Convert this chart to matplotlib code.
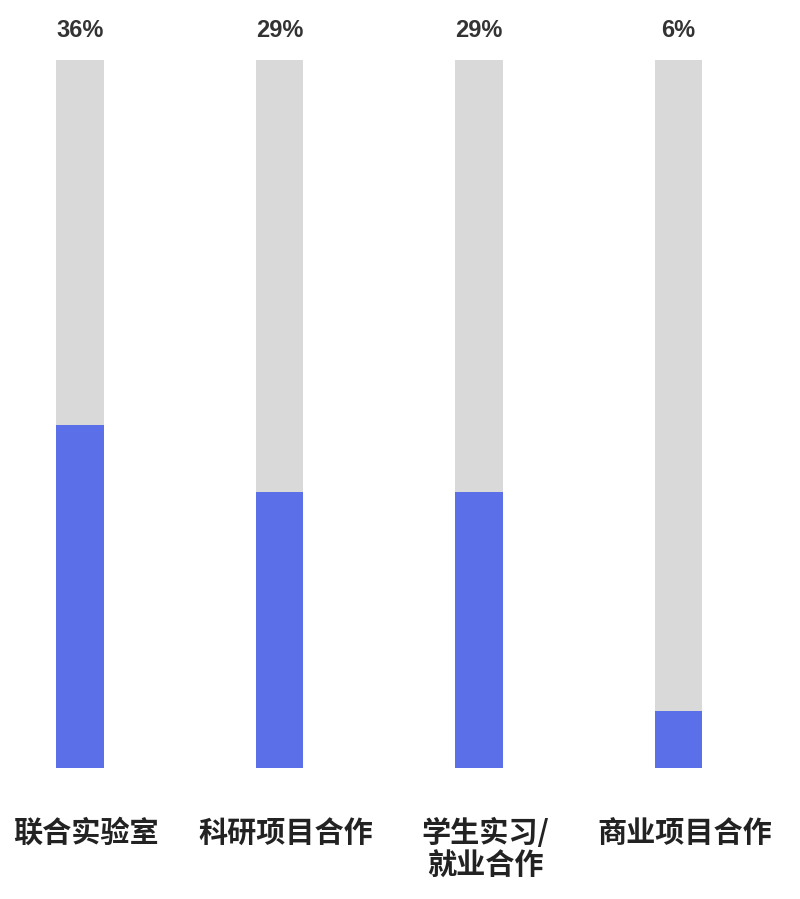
import matplotlib.pyplot as plt

plt.rcParams['font.family'] = ['Noto Sans CJK SC', 'DejaVu Sans']

categories = ['联合实验室', '科研项目合作', '学生实习/\n就业合作', '商业项目合作']
values = [0.36, 0.29, 0.29, 0.06]
labels = ['36%', '29%', '29%', '6%']
track = 0.743

blue = '#5b6fe8'
gray = '#d9d9d9'

fig = plt.figure(figsize=(8, 8.99), dpi=100)
ax = fig.add_axes([0, 0, 1, 1])

x = list(range(len(categories)))
ax.bar(x, [track] * len(x), width=0.236, color=gray)
ax.bar(x, values, width=0.236, color=blue)

for i in x:
    ax.text(i, 0.774, labels[i], ha='center', va='center', fontsize=17,
            fontweight='bold', color='#333333',
            family=['Liberation Sans', 'DejaVu Sans'])
    ax.text(i + 0.03, -0.052, categories[i], ha='center', va='top', fontsize=21,
            fontweight='bold', color='#222222', linespacing=1.12)

ax.set_xlim(-0.401, 3.609)
ax.set_ylim(-0.1375, 0.806)
ax.axis('off')

fig.savefig('out.png', dpi=100)
